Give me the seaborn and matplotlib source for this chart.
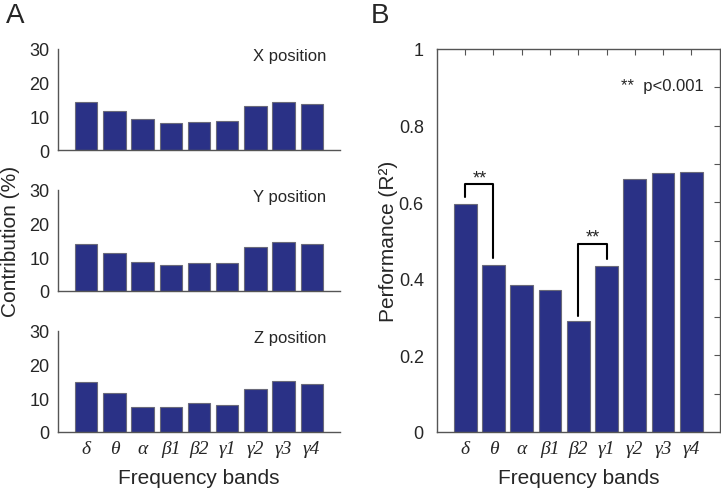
import numpy as np
import pandas as pd
import matplotlib
matplotlib.use('Agg')
import matplotlib.pyplot as plt
import seaborn as sns

# frequency bands
bands = ['δ', 'θ', 'α', 'β1', 'β2', 'γ1', 'γ2', 'γ3', 'γ4']

# contribution (%) per position
x_contrib = [14.2, 11.5, 9.2, 7.9, 8.2, 8.7, 13.0, 14.3, 13.7]
y_contrib = [14.1, 11.4, 8.7, 7.7, 8.2, 8.4, 13.1, 14.7, 13.9]
z_contrib = [14.9, 11.5, 7.5, 7.5, 8.7, 8.0, 12.8, 15.1, 14.3]
panel_titles = ['X position', 'Y position', 'Z position']

# decoding performance (R^2)
performance = [0.596, 0.437, 0.383, 0.371, 0.290, 0.434, 0.661, 0.675, 0.678]

bar_color = '#2a3186'
edge_color = '#6a6a7a'
spine_color = '#555555'

sns.set_style('white')
plt.rcParams['font.family'] = ['Liberation Sans', 'DejaVu Sans']

fig = plt.figure(figsize=(7.21, 4.89), dpi=100)
W, H = 721, 489

def px_axes(left, top, right, bottom):
    return fig.add_axes([left / W, 1 - bottom / H, (right - left) / W, (bottom - top) / H])

greek_font = dict(family='Liberation Serif', style='italic', size=14)

# ---- panel A ----
a_tops = [(50, 151), (191, 292), (332, 433)]
a_axes = []
for (top, bottom), vals, title in zip(a_tops, [x_contrib, y_contrib, z_contrib], panel_titles):
    ax = px_axes(58, top, 340, bottom)
    df = pd.DataFrame({'band': bands, 'value': vals})
    sns.barplot(data=df, x='band', y='value', color=bar_color, width=0.8,
                edgecolor=edge_color, linewidth=0.8, saturation=1, ax=ax)
    ax.set_xlim(-1, 9)
    ax.set_ylim(0, 30)
    ax.set_yticks([0, 10, 20, 30])
    ax.set_xlabel('')
    ax.set_ylabel('')
    sns.despine(ax=ax)
    for s in ['left', 'bottom']:
        ax.spines[s].set_color(spine_color)
        ax.spines[s].set_linewidth(1)
    ax.tick_params(axis='y', direction='in', length=3, color=spine_color, labelsize=13, pad=6)
    ax.tick_params(axis='x', length=0)
    ax.text(0.95, 0.94, title, transform=ax.transAxes, ha='right', va='center', fontsize=12)
    ax.set_xticklabels([])
    a_axes.append(ax)

a_axes[-1].set_xticks(range(len(bands)))
a_axes[-1].set_xticklabels(bands, fontdict=greek_font)
a_axes[-1].tick_params(axis='x', pad=6)
a_axes[-1].set_xlabel('Frequency bands', fontsize=15, labelpad=8)
a_axes[1].set_ylabel('Contribution (%)', fontsize=15)
a_axes[1].yaxis.set_label_coords(-0.135, 0.5)

# ---- panel B ----
axb = px_axes(437, 50, 719.5, 433)
dfb = pd.DataFrame({'band': bands, 'value': performance})
sns.barplot(data=dfb, x='band', y='value', color=bar_color, width=0.8,
            edgecolor=edge_color, linewidth=0.8, saturation=1, ax=axb)
axb.set_xlim(-1, 9)
axb.set_ylim(0, 1)
axb.set_yticks([0, 0.2, 0.4, 0.6, 0.8, 1])
axb.set_yticklabels(['0', '0.2', '0.4', '0.6', '0.8', '1'])
axb.set_xticks(range(len(bands)))
axb.set_xticklabels(bands, fontdict=greek_font)
for s in axb.spines.values():
    s.set_visible(True)
    s.set_color(spine_color)
    s.set_linewidth(1)
axb.tick_params(axis='y', left=False, labelsize=13, pad=6)
axb.tick_params(axis='x', bottom=False, top=True, direction='in', length=4,
                color=spine_color, pad=6)
sec = axb.secondary_yaxis('right')
sec.set_yticks(np.arange(0.1, 1.0, 0.1))
sec.set_yticklabels([])
sec.tick_params(direction='in', length=4, color=spine_color)
sec.spines['right'].set_visible(False)
axb.set_xlabel('Frequency bands', fontsize=15, labelpad=8)
axb.set_ylabel('Performance (R²)', fontsize=15)
axb.yaxis.set_label_coords(-0.138, 0.5)

# significance brackets
def bracket(ax, x0, x1, y_top, y0, y1, star_y):
    ax.plot([x0, x0, x1, x1], [y0, y_top, y_top, y1], color='black', lw=1.5)
    ax.text((x0 + x1) / 2, star_y, '**', ha='center', va='center', fontsize=13)

bracket(axb, 0, 1, 0.648, 0.613, 0.455, 0.662)
bracket(axb, 4, 5, 0.492, 0.304, 0.452, 0.508)
axb.text(8.45, 0.905, '**  p<0.001', ha='right', va='center', fontsize=12)

fig.text(15 / W, 1 - 16 / H, 'A', fontsize=20, ha='center', va='center')
fig.text(380 / W, 1 - 16 / H, 'B', fontsize=20, ha='center', va='center')

fig.savefig('out.png', dpi=100)
